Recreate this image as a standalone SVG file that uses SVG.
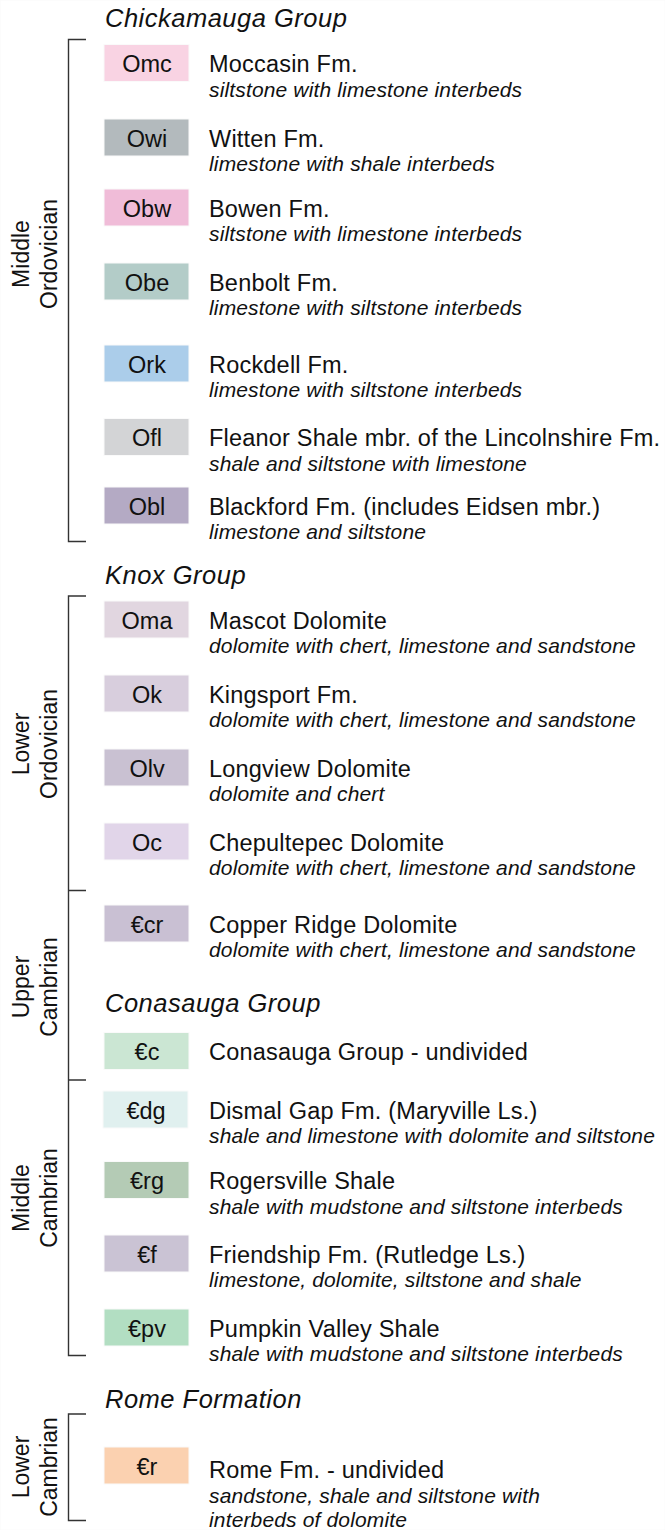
<svg xmlns="http://www.w3.org/2000/svg" width="665" height="1530" viewBox="0 0 665 1530">
<style>
text{font-family:"Liberation Sans",Arial,sans-serif;fill:#111}
.grp{font-size:25.5px;font-style:italic;letter-spacing:0.5px}
.nm{font-size:23.5px;letter-spacing:0.2px}
.ds{font-size:21px;font-style:italic;letter-spacing:0.15px}
.lb{font-size:23.5px;text-anchor:middle}
.ep{font-size:23px;text-anchor:middle}
.br{fill:none;stroke:#333;stroke-width:1.4}
rect{stroke:#fafafa;stroke-width:1}
</style>
<rect x="0" y="0" width="665" height="1530" fill="#fff" stroke="none"/>
<g id="connectors">
<path class="br" d="M86,39.5H68.5V541.5H86"/>
<path class="br" d="M86,596H68.5V1355.5H86M68.5,890.5H86M68.5,1080H86"/>
<path class="br" d="M86,1414H68.5V1520.5H86"/>
</g>
<g id="epochs">
<text class="ep" transform="translate(29,254) rotate(-90)">Middle</text>
<text class="ep" transform="translate(56.5,254) rotate(-90)">Ordovician</text>
<text class="ep" transform="translate(29,744) rotate(-90)">Lower</text>
<text class="ep" transform="translate(56.5,744) rotate(-90)">Ordovician</text>
<text class="ep" transform="translate(29,987) rotate(-90)">Upper</text>
<text class="ep" transform="translate(56.5,987) rotate(-90)">Cambrian</text>
<text class="ep" transform="translate(29,1198) rotate(-90)">Middle</text>
<text class="ep" transform="translate(56.5,1198) rotate(-90)">Cambrian</text>
<text class="ep" transform="translate(29,1467) rotate(-90)">Lower</text>
<text class="ep" transform="translate(56.5,1467) rotate(-90)">Cambrian</text>
</g>
<g id="groups">
<text class="grp" x="105" y="27">Chickamauga Group</text>
<text class="grp" x="105" y="584">Knox Group</text>
<text class="grp" x="105" y="1012">Conasauga Group</text>
<text class="grp" x="105" y="1407.5">Rome Formation</text>
</g>
<g id="Omc"><rect x="104" y="44.5" width="85" height="37" fill="#f9d3e3"/><text class="lb" x="147" y="72">Omc</text><text class="nm" x="209" y="72">Moccasin Fm.</text><text class="ds" x="209" y="96.5">siltstone with limestone interbeds</text></g>
<g id="Owi"><rect x="104" y="119" width="85" height="37" fill="#b3babd"/><text class="lb" x="147" y="146.5">Owi</text><text class="nm" x="209" y="146.5">Witten Fm.</text><text class="ds" x="209" y="171">limestone with shale interbeds</text></g>
<g id="Obw"><rect x="104" y="189" width="85" height="37" fill="#f0bcd8"/><text class="lb" x="147" y="216.5">Obw</text><text class="nm" x="209" y="216.5">Bowen Fm.</text><text class="ds" x="209" y="241">siltstone with limestone interbeds</text></g>
<g id="Obe"><rect x="104" y="263" width="85" height="37" fill="#b3ccc8"/><text class="lb" x="147" y="290.5">Obe</text><text class="nm" x="209" y="290.5">Benbolt Fm.</text><text class="ds" x="209" y="315">limestone with siltstone interbeds</text></g>
<g id="Ork"><rect x="104" y="345" width="85" height="37" fill="#abcdea"/><text class="lb" x="147" y="372.5">Ork</text><text class="nm" x="209" y="372.5">Rockdell Fm.</text><text class="ds" x="209" y="397">limestone with siltstone interbeds</text></g>
<g id="Ofl"><rect x="104" y="418.5" width="85" height="37" fill="#d3d4d6"/><text class="lb" x="147" y="446">Ofl</text><text class="nm" x="209" y="446">Fleanor Shale mbr. of the Lincolnshire Fm.</text><text class="ds" x="209" y="470.5">shale and siltstone with limestone</text></g>
<g id="Obl"><rect x="104" y="487" width="85" height="37" fill="#b4aac4"/><text class="lb" x="147" y="514.5">Obl</text><text class="nm" x="209" y="514.5">Blackford Fm. (includes Eidsen mbr.)</text><text class="ds" x="209" y="539">limestone and siltstone</text></g>
<g id="Oma"><rect x="104" y="601" width="85" height="37" fill="#e1d6e0"/><text class="lb" x="147" y="628.5">Oma</text><text class="nm" x="209" y="628.5">Mascot Dolomite</text><text class="ds" x="209" y="653">dolomite with chert, limestone and sandstone</text></g>
<g id="Ok"><rect x="104" y="675" width="85" height="37" fill="#d8cedd"/><text class="lb" x="147" y="702.5">Ok</text><text class="nm" x="209" y="702.5">Kingsport Fm.</text><text class="ds" x="209" y="727">dolomite with chert, limestone and sandstone</text></g>
<g id="Olv"><rect x="104" y="749" width="85" height="37" fill="#c9c1d2"/><text class="lb" x="147" y="776.5">Olv</text><text class="nm" x="209" y="776.5">Longview Dolomite</text><text class="ds" x="209" y="801">dolomite and chert</text></g>
<g id="Oc"><rect x="104" y="823" width="85" height="37" fill="#e1d5e9"/><text class="lb" x="147" y="850.5">Oc</text><text class="nm" x="209" y="850.5">Chepultepec Dolomite</text><text class="ds" x="209" y="875">dolomite with chert, limestone and sandstone</text></g>
<g id="Ccr"><rect x="104" y="905" width="85" height="37" fill="#c9c0d3"/><text class="lb" x="147" y="932.5">€cr</text><text class="nm" x="209" y="932.5">Copper Ridge Dolomite</text><text class="ds" x="209" y="957">dolomite with chert, limestone and sandstone</text></g>
<g id="Cc"><rect x="104" y="1032.5" width="85" height="37" fill="#cbe6d3"/><text class="lb" x="147" y="1060">€c</text><text class="nm" x="209" y="1060">Conasauga Group - undivided</text></g>
<g id="Cdg"><rect x="103" y="1091" width="85" height="37" fill="#e0f0ef"/><text class="lb" x="146" y="1118.5">€dg</text><text class="nm" x="209" y="1118.5">Dismal Gap Fm. (Maryville Ls.)</text><text class="ds" x="209" y="1143">shale and limestone with dolomite and siltstone</text></g>
<g id="Crg"><rect x="104" y="1161.5" width="85" height="37" fill="#b4cbb5"/><text class="lb" x="147" y="1189">€rg</text><text class="nm" x="209" y="1189">Rogersville Shale</text><text class="ds" x="209" y="1213.5">shale with mudstone and siltstone interbeds</text></g>
<g id="Cf"><rect x="104" y="1235" width="85" height="37" fill="#cac3d4"/><text class="lb" x="147" y="1262.5">€f</text><text class="nm" x="209" y="1262.5">Friendship Fm. (Rutledge Ls.)</text><text class="ds" x="209" y="1287">limestone, dolomite, siltstone and shale</text></g>
<g id="Cpv"><rect x="104" y="1309" width="85" height="37" fill="#b2dec2"/><text class="lb" x="147" y="1336.5">€pv</text><text class="nm" x="209" y="1336.5">Pumpkin Valley Shale</text><text class="ds" x="209" y="1361">shale with mudstone and siltstone interbeds</text></g>
<g id="Cr"><rect x="104" y="1447" width="85" height="37" fill="#fbd1b0"/><text class="lb" x="147" y="1474.5">€r</text><text class="nm" x="209" y="1477.5">Rome Fm. - undivided</text><text class="ds" x="209" y="1503">sandstone, shale and siltstone with</text><text class="ds" x="209" y="1527">interbeds of dolomite</text></g>
</svg>
